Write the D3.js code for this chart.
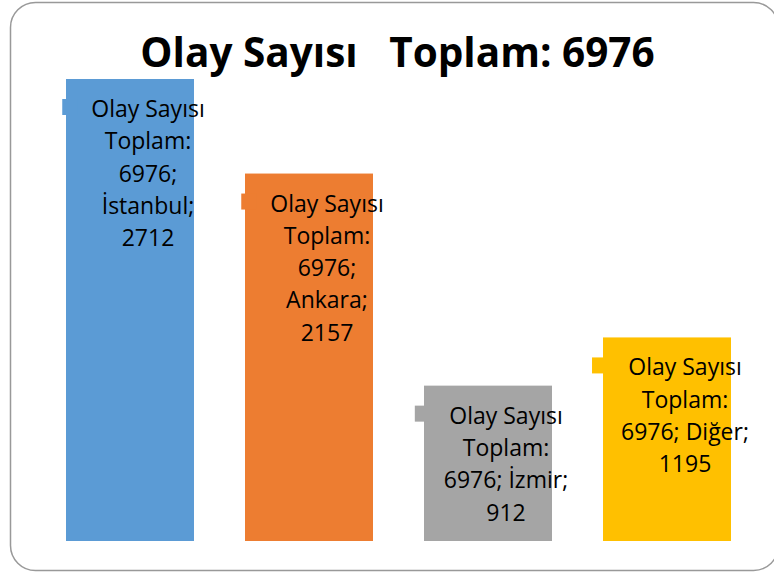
<!DOCTYPE html>
<html><head><meta charset="utf-8">
<script src="https://cdn.jsdelivr.net/npm/d3@7"></script>
<style>body{margin:0;background:#fff}svg{display:block}text{font-family:"Open Sans",sans-serif;white-space:pre}</style>
</head><body>
<svg id="c" width="774" height="574"></svg>
<script>
const categories = ["İstanbul", "Ankara", "İzmir", "Diğer"];
const values = [2712, 2157, 912, 1195];
const colors = ["#5B9BD5", "#ED7D31", "#A5A5A5", "#FFC000"];
const seriesName = "Olay Sayısı";
const totalLabel = "Toplam: 6976";
const titleText = "Olay Sayısı   Toplam: 6976";

const svg = d3.select("#c");
svg.append("rect").attr("x",10.5).attr("y",2.5).attr("width",768).attr("height",568)
  .attr("rx",25).attr("ry",25).attr("fill","#fff").attr("stroke","#999").attr("stroke-width",1.5);

svg.append("text").attr("x",397.5).attr("y",67).attr("text-anchor","middle")
  .attr("font-size",40.5).attr("font-weight","bold").attr("fill","#000").text(titleText);

const x = d3.scaleBand().domain(categories).range([66, 731]).paddingInner(0.285).paddingOuter(0);
const y = d3.scaleLinear().domain([0, 2712]).range([541, 79]);

const g = svg.append("g");
g.selectAll("rect.bar").data(categories).join("rect").attr("class","bar")
  .attr("x", d=>x(d)).attr("width", x.bandwidth())
  .attr("y", (d,i)=>y(values[i])).attr("height",(d,i)=>y(0)-y(values[i]))
  .attr("fill",(d,i)=>colors[i]);

const fs = 23, lh = 32.3, maxW = 132;
const meas = svg.append("text").attr("font-size",fs).attr("visibility","hidden");
function w(s){ meas.text(s); return meas.node().getComputedTextLength(); }
function wrap(words){
  const lines=[]; let cur="";
  words.forEach(wd=>{
    const t = cur ? cur+" "+wd : wd;
    if (cur && w(t) > maxW) { lines.push(cur); cur = wd; } else cur = t;
  });
  if (cur) lines.push(cur);
  return lines;
}

categories.forEach((c,i)=>{
  const words = (seriesName+" "+totalLabel+"; "+c+"; "+values[i]).split(" ");
  const lines = wrap(words);
  const mw = d3.max(lines, l=>w(l));
  const cx = x(c) + x.bandwidth()/2 + 3.5;
  const keyLeft = cx - (29 + mw)/2;
  const textCx = keyLeft + 29 + mw/2;
  const top = y(values[i]);
  const b0 = top + 38;
  svg.append("rect").attr("x",keyLeft).attr("y",b0-18).attr("width",15).attr("height",16).attr("fill",colors[i]);
  lines.forEach((l,k)=>{
    svg.append("text").attr("x",textCx).attr("y",b0 + k*lh).attr("text-anchor","middle")
      .attr("font-size",fs).attr("fill","#000").text(l);
  });
});
meas.remove();
</script>
</body></html>
